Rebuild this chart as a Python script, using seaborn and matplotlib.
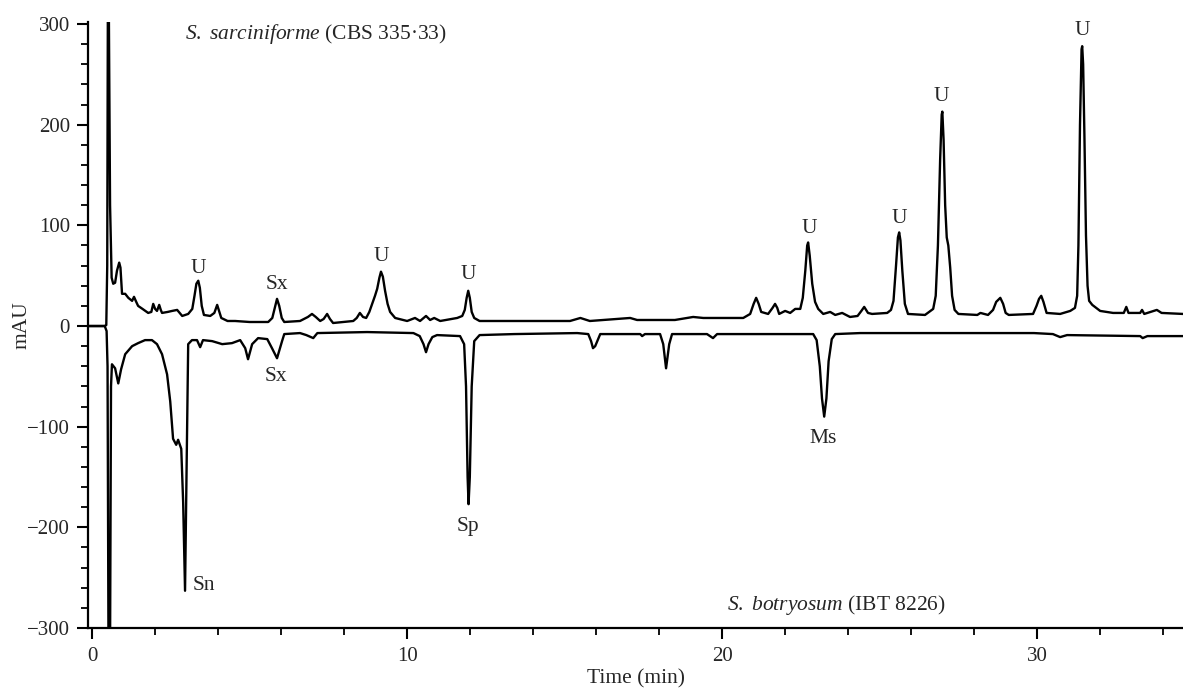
import numpy as np
import matplotlib
matplotlib.use("Agg")
import matplotlib.pyplot as plt
import pandas as pd
import seaborn as sns

# upper trace: S. sarciniforme (CBS 335.33), time (min) / absorbance (mAU)
upper_t = [-0.13, 0.40, 0.45, 0.48, 0.50, 0.53, 0.57, 0.62, 0.67, 0.73, 0.79, 0.86, 0.90, 0.95,
           1.05, 1.15, 1.27, 1.33, 1.40, 1.46, 1.60, 1.78, 1.88, 1.94, 2.00, 2.06, 2.13, 2.18,
           2.22, 2.40, 2.54, 2.70, 2.86, 3.05, 3.18, 3.25, 3.31, 3.37, 3.42, 3.48, 3.55, 3.75,
           3.88, 3.97, 4.10, 4.30, 4.54, 5.00, 5.59, 5.72, 5.80, 5.87, 5.94, 6.02, 6.10, 6.60,
           6.85, 6.98, 7.10, 7.24, 7.35, 7.46, 7.55, 7.65, 8.29, 8.40, 8.50, 8.60, 8.70, 8.80,
           8.89, 8.98, 9.05, 9.12, 9.17, 9.23, 9.30, 9.38, 9.46, 9.62, 10.00, 10.25, 10.41,
           10.60, 10.73, 10.86, 11.05, 11.59, 11.75, 11.83, 11.89, 11.94, 11.99, 12.05, 12.13,
           12.30, 13.50, 15.17, 15.50, 15.80, 17.08, 17.30, 18.50, 19.08, 19.40, 20.67, 20.89,
           21.00, 21.08, 21.16, 21.24, 21.46, 21.60, 21.68, 21.75, 21.81, 22.00, 22.16, 22.32,
           22.48, 22.56, 22.64, 22.70, 22.73, 22.78, 22.86, 22.95, 23.05, 23.21, 23.43, 23.59,
           23.81, 24.06, 24.30, 24.42, 24.51, 24.63, 24.76, 25.24, 25.36, 25.44, 25.52, 25.58,
           25.62, 25.66, 25.72, 25.80, 25.90, 26.44, 26.70, 26.78, 26.85, 26.92, 26.97, 26.99,
           27.03, 27.08, 27.13, 27.18, 27.24, 27.30, 27.38, 27.50, 28.10, 28.20, 28.44, 28.60,
           28.70, 28.83, 28.92, 29.00, 29.10, 29.87, 29.98, 30.06, 30.13, 30.20, 30.30, 30.73,
           31.05, 31.20, 31.27, 31.31, 31.36, 31.41, 31.43, 31.46, 31.50, 31.55, 31.60, 31.65,
           31.75, 32.00, 32.41, 32.75, 32.83, 32.90, 33.27, 33.33, 33.40, 33.80, 33.95, 34.63]
upper_y = [0, 0, 1, 60, 320, 320, 120, 48, 42, 43, 55, 63, 58, 32,
           32, 28, 25, 29, 24, 20, 17, 13, 14, 22, 17, 15, 21, 16,
           13, 14, 15, 16, 10, 12, 17, 30, 42, 45, 38, 20, 11, 10,
           13, 21, 8, 5, 5, 4, 4, 8, 18, 27, 20, 8, 4, 5,
           9, 12, 9, 5, 7, 12, 7, 3, 5, 8, 13, 9, 8, 14,
           22, 30, 37, 48, 54, 49, 35, 22, 14, 8, 5, 8, 5,
           10, 6, 8, 5, 8, 10, 16, 28, 35, 28, 14, 8,
           5, 5, 5, 8, 5, 8, 6, 6, 9, 8, 8, 12,
           22, 28, 22, 14, 12, 18, 22, 18, 12, 15, 13, 17,
           17, 28, 55, 80, 83, 70, 42, 24, 17, 12, 14, 11,
           13, 9, 10, 15, 19, 13, 12, 13, 16, 25, 60, 88,
           93, 85, 55, 22, 12, 11, 17, 30, 80, 165, 210, 213,
           185, 120, 88, 80, 58, 30, 16, 12, 11, 13, 11, 16,
           24, 28, 22, 13, 11, 12, 20, 27, 30, 24, 13, 12,
           15, 18, 30, 80, 200, 275, 278, 260, 190, 90, 40, 25,
           21, 15, 13, 13, 19, 13, 13, 16, 12, 16, 13, 12]

# lower trace: S. botryosum (IBT 8226)
lower_t = [-0.13, 0.40, 0.46, 0.49, 0.52, 0.57, 0.60, 0.63, 0.73, 0.83, 0.92, 1.05, 1.27, 1.46,
           1.68, 1.90, 2.06, 2.22, 2.38, 2.48, 2.57, 2.67, 2.73, 2.83, 2.89, 2.95, 3.00, 3.05,
           3.17, 3.33, 3.43, 3.52, 3.81, 4.13, 4.44, 4.70, 4.86, 4.95, 5.08, 5.27, 5.56, 5.71,
           5.87, 6.03, 6.10, 6.60, 6.80, 7.02, 7.15, 8.73, 10.20, 10.40, 10.52, 10.60, 10.68,
           10.80, 10.95, 11.68, 11.81, 11.87, 11.92, 11.95, 11.99, 12.05, 12.13, 12.30, 13.40,
           15.40, 15.75, 15.84, 15.90, 15.97, 16.05, 16.13, 17.40, 17.46, 17.55, 18.03, 18.13,
           18.22, 18.32, 18.41, 19.52, 19.71, 19.84, 21.62, 22.89, 23.00, 23.10, 23.17, 23.24,
           23.31, 23.38, 23.48, 23.59, 24.38, 29.90, 30.50, 30.73, 30.95, 33.27, 33.35, 33.50,
           34.63]
lower_y = [0, 0, -5, -40, -320, -320, -60, -38, -42, -57, -43, -28, -20, -17,
           -14, -14, -18, -28, -48, -75, -112, -118, -113, -122, -175, -263, -140, -18,
           -14, -14, -21, -14, -15, -18, -17, -14, -22, -33, -18, -12, -13, -22,
           -32, -15, -8, -7, -9, -12, -7, -6, -7, -10, -18, -26, -18,
           -11, -9, -10, -18, -60, -150, -177, -150, -60, -15, -9, -8,
           -7, -8, -15, -22, -20, -14, -8, -8, -10, -8, -8, -18,
           -42, -18, -8, -8, -12, -8, -8, -8, -14, -40, -72, -90,
           -72, -35, -13, -8, -7, -7, -8, -11, -9, -10, -12, -10,
           -10]

# peak labels
label_text = ["U", "Sx", "U", "U", "U", "U", "U", "U", "Sx", "Sp", "Ms", "Sn"]
label_t = [3.37, 5.87, 9.17, 11.94, 22.78, 25.62, 26.95, 31.43, 5.84, 11.94, 23.2, 3.56]
label_y = [57, 41, 69, 51, 97, 107, 228, 294, -50, -199, -112, -258]

sns.set_style("ticks")
plt.rcParams['font.family'] = ['Liberation Serif', 'DejaVu Serif']
plt.rcParams['mathtext.fontset'] = 'custom'
plt.rcParams['mathtext.rm'] = 'Liberation Serif'
plt.rcParams['mathtext.it'] = 'Liberation Serif:italic'

fig = plt.figure(figsize=(11.83, 6.95), dpi=100)
ax = fig.add_axes([0.0744, 0.0964, 0.9256, 0.8719])

up = pd.DataFrame({"t": upper_t, "mAU": upper_y})
lo = pd.DataFrame({"t": lower_t, "mAU": lower_y})
sns.lineplot(data=up, x="t", y="mAU", color="black", linewidth=1.7, estimator=None, sort=False, ax=ax)
sns.lineplot(data=lo, x="t", y="mAU", color="black", linewidth=1.7, estimator=None, sort=False, ax=ax)

for s, x, y in zip(label_text, label_t, label_y):
    ax.text(x, y, s, ha="center", va="center", fontsize=15.5)

ax.text(2.95, 290, r"$\it{S.\ sarciniforme}$ (CBS 335·33)", ha="left", va="center", fontsize=15.5)
ax.text(20.16, -277, r"$\it{S.\ botryosum}$ (IBT 8226)", ha="left", va="center", fontsize=15.5)

ax.set_xlim(-0.13, 34.63)
ax.set_ylim(-300, 302)
ax.set_xticks([0, 10, 20, 30])
ax.set_xticks(np.arange(2, 35, 2), minor=True)
ax.set_yticks([-300, -200, -100, 0, 100, 200, 300])
ax.set_yticks(np.arange(-300, 301, 20), minor=True)
ax.tick_params(axis="both", which="major", length=8, width=1.5, labelsize=15, color="black")
ax.tick_params(axis="both", which="minor", length=5, width=1.3, color="black")
ax.tick_params(axis="y", pad=5)
ax.tick_params(axis="x", pad=6)
ax.set_xlabel("Time (min)", fontsize=15.5, labelpad=2)
ax.set_ylabel("mAU", fontsize=15.5)
ax.yaxis.set_label_coords(-0.052, 0.5)

sns.despine(ax=ax)
for sp in ["left", "bottom"]:
    ax.spines[sp].set_linewidth(1.6)
    ax.spines[sp].set_color("black")

fig.savefig("out.png", dpi=100)
